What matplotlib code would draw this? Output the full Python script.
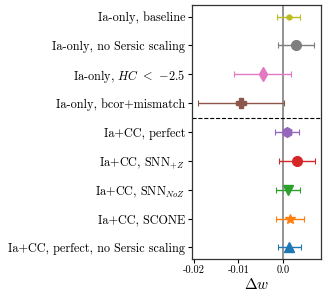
import matplotlib.pyplot as plt

plt.rcParams['font.family'] = 'cmr10'
plt.rcParams['mathtext.fontset'] = 'cm'
plt.rcParams['axes.formatter.use_mathtext'] = True

# labels from top to bottom
labels = [
    "Ia-only, baseline",
    "Ia-only, no Sersic scaling",
    "Ia-only, $HC$ $<$ $-2.5$",
    "Ia-only, bcor+mismatch",
    "Ia+CC, perfect",
    "Ia+CC, SNN$_{+Z}$",
    "Ia+CC, SNN$_{NoZ}$",
    "Ia+CC, SCONE",
    "Ia+CC, perfect, no Sersic scaling",
]
dw = [0.0012, 0.0029, -0.0046, -0.0094, 0.0008, 0.0031, 0.0010, 0.0015, 0.0014]
dw_err = [0.0025, 0.0041, 0.0064, 0.0097, 0.0027, 0.0040, 0.0027, 0.0031, 0.0026]
colors = ["tab:olive", "tab:gray", "tab:pink", "tab:brown", "tab:purple",
          "tab:red", "tab:green", "tab:orange", "tab:blue"]
markers = [".", "o", "d", "P", "h", "o", "v", "*", "^"]

xticks = [-0.02, -0.01, 0.0]
xtick_labels = ["-0.02", "-0.01", "0.0"]

fig = plt.figure(figsize=(3.26, 2.97), dpi=100)
ax = fig.add_axes([0.589, 0.128, 0.396, 0.855])

ax.axvline(0, color="gray", lw=1.2, zorder=0)
for i in range(len(labels)):
    ax.errorbar(dw[i], i, xerr=dw_err[i], fmt=markers[i], color=colors[i],
                ms=7, capsize=2.5, elinewidth=1.0, capthick=0.8)
ax.axhline(3.5, color="k", ls="--", lw=0.8)

ax.set_yticks(range(len(labels)))
ax.set_yticklabels(labels, fontsize=8.8)
ax.set_ylim(8.4, -0.4)
ax.set_xlim(-0.0204, 0.0085)
ax.set_xticks(xticks)
ax.set_xticklabels(xtick_labels, fontsize=7.5)
ax.set_xlabel(r"$\Delta w$", fontsize=11, labelpad=1)
ax.tick_params(axis="both", length=3, width=0.8, pad=2)
for s in ax.spines.values():
    s.set_color("#333333")
    s.set_linewidth(0.9)

plt.savefig("out.png", dpi=100)
